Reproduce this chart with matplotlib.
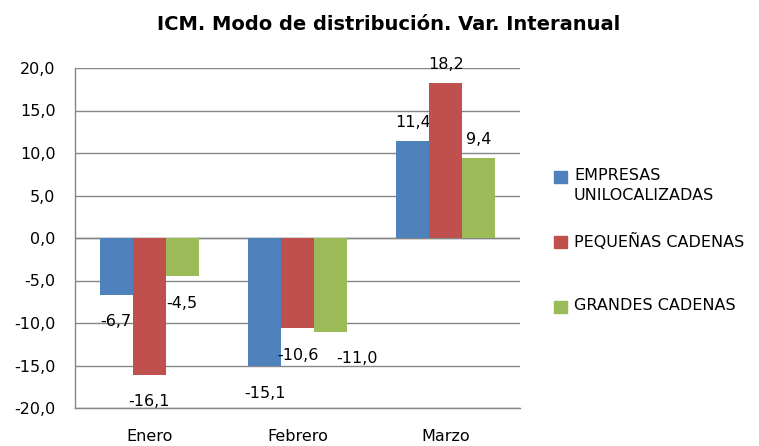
import matplotlib
matplotlib.use("Agg")
import matplotlib.pyplot as plt
from matplotlib.patches import Rectangle
import numpy as np

plt.rcParams['font.family'] = ['DejaVu Sans']

categories = ["Enero", "Febrero", "Marzo"]
series_names = ["EMPRESAS\nUNILOCALIZADAS", "PEQUEÑAS CADENAS", "GRANDES CADENAS"]
empresas = [-6.7, -15.1, 11.4]
pequenas = [-16.1, -10.6, 18.2]
grandes = [-4.5, -11.0, 9.4]
series_values = [empresas, pequenas, grandes]
colors = ["#4F81BD", "#C0504D", "#9BBB59"]
yticks = [-20, -15, -10, -5, 0, 5, 10, 15, 20]
title = "ICM. Modo de distribución. Var. Interanual"

# horizontal nudges (points) for data labels, per series / category
label_dx = [[0, 0, 0], [0, 0, 0], [0, 19.4, 0]]

FS = 11.5
W, H = 759, 446
fig = plt.figure(figsize=(W / 100, H / 100), dpi=100)
ax = fig.add_axes([75 / W, 1 - 408 / H, 445 / W, 340 / H])

x = np.arange(len(categories))
bw = 0.222
for i, (vals, c) in enumerate(zip(series_values, colors)):
    pos = x + (i - 1) * bw
    ax.bar(pos, vals, width=bw, color=c, zorder=3)
    for j, (xp, v) in enumerate(zip(pos, vals)):
        txt = f"{v:.1f}".replace(".", ",")
        dy = 13.7 if v >= 0 else -19.4
        ax.annotate(txt, (xp, v), xytext=(label_dx[i][j], dy), textcoords="offset points",
                    ha="center", va="center", fontsize=FS)

ax.set_xlim(-0.5, len(categories) - 0.5)
ax.set_ylim(-20, 20)
ax.set_yticks(yticks)
ax.set_yticklabels([f"{t:.1f}".replace(".", ",") for t in yticks], fontsize=FS)
ax.set_xticks(x)
ax.set_xticklabels(categories, fontsize=FS)
ax.tick_params(axis="y", length=0, pad=14)
ax.tick_params(axis="x", length=0, pad=15)
ax.grid(axis="y", color="#868686", linewidth=1, zorder=0)
for s in ["top", "right"]:
    ax.spines[s].set_visible(False)
for s in ["left", "bottom"]:
    ax.spines[s].set_color("#868686")
    ax.spines[s].set_linewidth(1)
ax.axhline(0, color="#868686", linewidth=1, zorder=2)

fig.text(389 / W, 1 - 25 / H, title, ha="center", va="center",
         fontsize=14, fontweight="bold")

# legend
leg_y = [177, 242, 307]
for name, c, yy in zip(series_names, colors, leg_y):
    fig.add_artist(Rectangle((554 / W, 1 - (yy + 6) / H), 13 / W, 12 / H,
                             transform=fig.transFigure, color=c))
    fig.text(574 / W, 1 - (yy - 9) / H, name, ha="left", va="top",
             fontsize=FS, linespacing=1.45)

fig.savefig("out.png", dpi=100)
